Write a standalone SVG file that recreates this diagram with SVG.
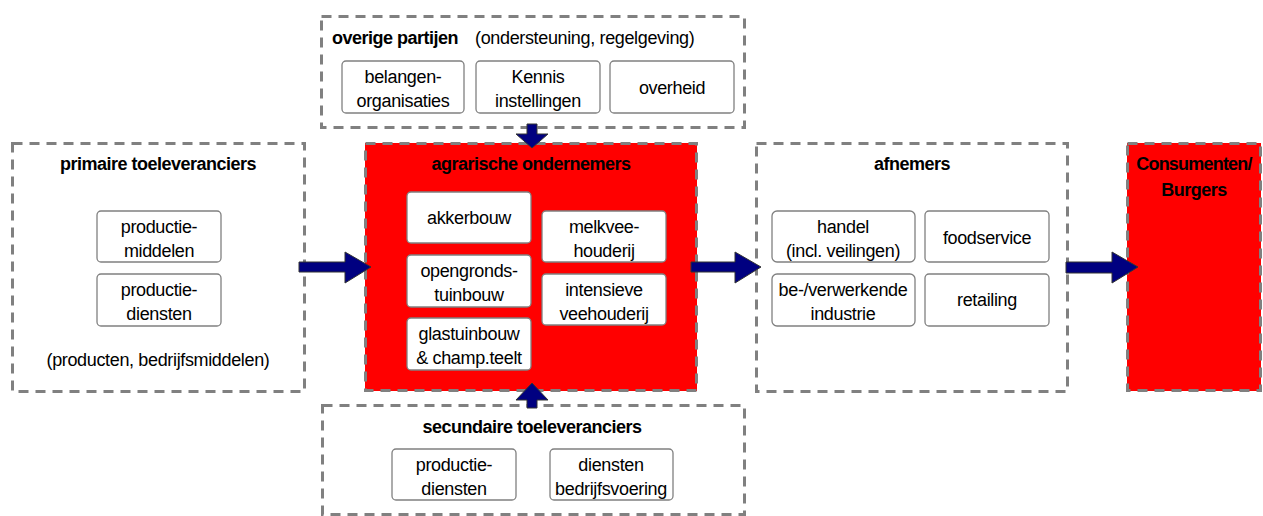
<svg xmlns="http://www.w3.org/2000/svg" width="1263" height="516" viewBox="0 0 1263 516">
<style>
.grp{fill:#fff;stroke:#808080;stroke-width:3;stroke-dasharray:10 7}
.red{fill:#ff0000}
.box{fill:#fff;stroke:#808080;stroke-width:1.3}
text{font-family:"Liberation Sans",Arial,sans-serif;font-size:18px;letter-spacing:-0.35px;fill:#000}
.t{font-weight:bold;letter-spacing:-0.5px}
.c{text-anchor:middle}
.arr{fill:#000080;stroke:#333;stroke-width:1}
</style>
<rect width="1263" height="516" fill="#fff"/>
<g id="overige">
<rect class="grp" x="321.5" y="16.5" width="423" height="111"/>
<text class="t" x="332" y="44">overige partijen</text>
<text x="475" y="44">(ondersteuning, regelgeving)</text>
<rect class="box" x="342" y="61" width="122" height="52" rx="4"/>
<text class="c" x="403" y="83">belangen-</text>
<text class="c" x="403" y="107">organisaties</text>
<rect class="box" x="476" y="61" width="124" height="52" rx="4"/>
<text class="c" x="538" y="83">Kennis</text>
<text class="c" x="538" y="107">instellingen</text>
<rect class="box" x="610" y="61" width="124" height="52" rx="4"/>
<text class="c" x="672" y="94">overheid</text>
</g>
<g id="primaire">
<rect class="grp" x="12.5" y="143.5" width="292" height="248"/>
<text class="t c" x="158" y="170">primaire toeleveranciers</text>
<rect class="box" x="97" y="211" width="124" height="51" rx="4"/>
<text class="c" x="159" y="233">productie-</text>
<text class="c" x="159" y="257">middelen</text>
<rect class="box" x="97" y="274" width="124" height="52" rx="4"/>
<text class="c" x="159" y="296">productie-</text>
<text class="c" x="159" y="320">diensten</text>
<text class="c" x="158" y="366">(producten, bedrijfsmiddelen)</text>
</g>
<g id="agrarische">
<rect class="red" x="365" y="143" width="332" height="248"/>
<rect x="365.5" y="143.5" width="331" height="247" fill="none" stroke="#808080" stroke-width="3" stroke-dasharray="10 7"/>
<text class="t c" x="531" y="170">agrarische ondernemers</text>
<rect class="box" x="407" y="192" width="124" height="51" rx="4"/>
<text class="c" x="469" y="224">akkerbouw</text>
<rect class="box" x="407" y="255" width="124" height="52" rx="4"/>
<text class="c" x="469" y="277">opengronds-</text>
<text class="c" x="469" y="301">tuinbouw</text>
<rect class="box" x="407" y="318" width="124" height="52" rx="4"/>
<text class="c" x="469" y="340">glastuinbouw</text>
<text class="c" x="469" y="364">&amp; champ.teelt</text>
<rect class="box" x="542" y="211" width="124" height="51" rx="4"/>
<text class="c" x="604" y="233">melkvee-</text>
<text class="c" x="604" y="257">houderij</text>
<rect class="box" x="542" y="274" width="124" height="51" rx="4"/>
<text class="c" x="604" y="296">intensieve</text>
<text class="c" x="604" y="320">veehouderij</text>
</g>
<g id="afnemers">
<rect class="grp" x="756.5" y="143.5" width="311" height="248"/>
<text class="t c" x="912" y="170">afnemers</text>
<rect class="box" x="772" y="211" width="143" height="51" rx="5"/>
<text class="c" x="843" y="233">handel</text>
<text class="c" x="843" y="257">(incl. veilingen)</text>
<rect class="box" x="925" y="211" width="124" height="51" rx="4"/>
<text class="c" x="987" y="244">foodservice</text>
<rect class="box" x="772" y="274" width="143" height="52" rx="5"/>
<text class="c" x="843" y="296">be-/verwerkende</text>
<text class="c" x="843" y="320">industrie</text>
<rect class="box" x="925" y="274" width="124" height="52" rx="4"/>
<text class="c" x="987" y="306">retailing</text>
</g>
<g id="consumenten">
<rect class="red" x="1127" y="143" width="134" height="248"/>
<rect x="1127.5" y="143.5" width="133" height="247" fill="none" stroke="#808080" stroke-width="3" stroke-dasharray="10 7"/>
<text class="t c" x="1194" y="170" style="letter-spacing:-0.8px">Consumenten/</text>
<text class="t c" x="1194" y="196">Burgers</text>
</g>
<g id="secundaire">
<rect class="grp" x="322.5" y="405.5" width="422" height="109"/>
<text class="t c" x="532" y="433">secundaire toeleveranciers</text>
<rect class="box" x="392" y="449" width="124" height="51" rx="4"/>
<text class="c" x="454" y="471">productie-</text>
<text class="c" x="454" y="495">diensten</text>
<rect class="box" x="550" y="449" width="123" height="51" rx="4"/>
<text class="c" x="611" y="471">diensten</text>
<text class="c" x="611" y="495">bedrijfsvoering</text>
</g>
<g id="connectors">
<polygon class="arr" points="299,262 345,262 345,252 371,267 345,283 345,272 299,272"/>
<polygon class="arr" points="691,262 735,262 735,252 761,267 735,283 735,272 691,272"/>
<polygon class="arr" stroke="#000" points="1066,262 1112,262 1112,252 1138,267 1112,283 1112,273 1066,273"/>
<polygon class="arr" points="527,124 537,124 537,134 548,134 532,148 516,134 527,134"/>
<polygon class="arr" points="527,408 537,408 537,400 548,400 532,383 516,400 527,400"/>
</g>
</svg>
